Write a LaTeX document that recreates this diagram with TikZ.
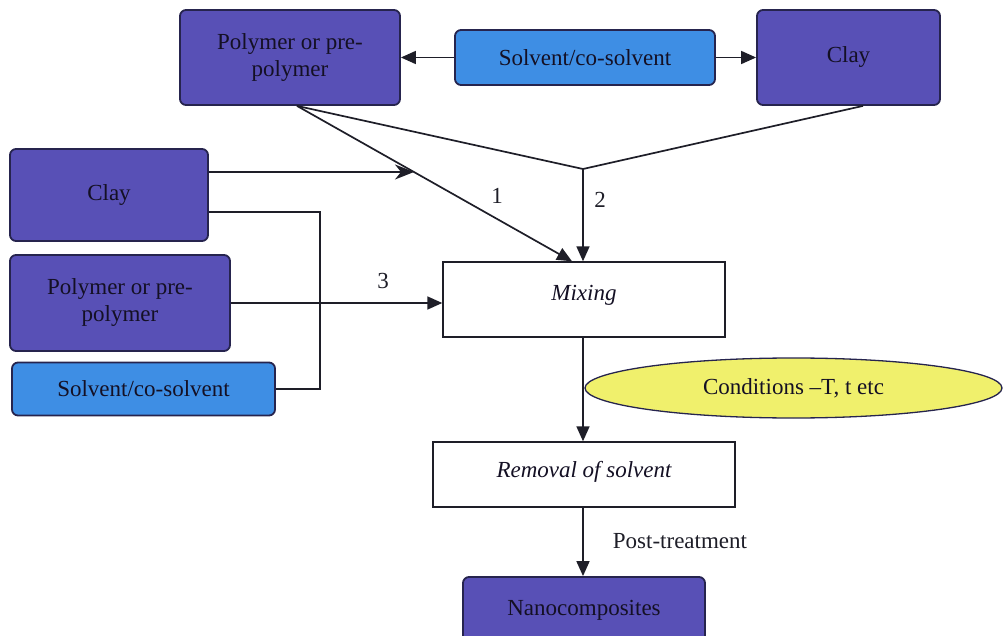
\documentclass[tikz,border=0pt]{standalone}
\usepackage{fontspec}
\setmainfont{Liberation Serif}
\usetikzlibrary{arrows.meta,shapes.geometric,calc}

\definecolor{boxpurple}{RGB}{88,80,182}
\definecolor{boxblue}{RGB}{62,142,228}
\definecolor{boxedge}{RGB}{38,36,78}
\definecolor{condyellow}{RGB}{240,240,108}
\definecolor{inktext}{RGB}{20,16,36}
\definecolor{inkline}{RGB}{30,30,40}

\begin{document}
\begin{tikzpicture}[x=1pt,y=-1pt,
  every node/.style={font=\fontsize{23}{27}\selectfont, text=inktext},
  material/.style={draw=boxedge, line width=1.8pt, rounded corners=6pt,
    fill=boxpurple, align=center, inner sep=0pt},
  solventbox/.style={material, fill=boxblue},
  stagebox/.style={draw=inkline, line width=1.4pt, fill=white, inner sep=0pt,
    font=\fontsize{23}{27}\selectfont\itshape},
  flow/.style={draw=inkline, line width=1.7pt},
  arr/.style={flow, -{Triangle[length=15pt,width=13pt]}},
  sharparr/.style={flow, -{Stealth[length=19pt,width=15pt,inset=6pt]}},
  cond/.style={ellipse, draw=boxedge, line width=1.3pt, fill=condyellow, inner sep=0pt},
  tag/.style={text=inkline}]

\useasboundingbox (0,0) rectangle (1004,636);
\clip (0,0) rectangle (1004,636);

% top row: polymer, solvent, clay
\node[material, minimum width=220pt, minimum height=95pt] (polyA) at (290,57.5) {Polymer or pre-\\polymer};
\node[solventbox, minimum width=260pt, minimum height=55pt] (solvA) at (585,57.5) {Solvent/co-solvent};
\node[material, minimum width=183pt, minimum height=95pt] (clayA) at (848.5,57.5) {Clay};

% left column: separate starting materials
\node[material, minimum width=198pt, minimum height=92pt] (clayB) at (109,195) {Clay};
\node[material, minimum width=220pt, minimum height=96pt] (polyB) at (120,303) {Polymer or pre-\\polymer};
\node[solventbox, minimum width=263pt, minimum height=53pt] (solvB) at (143.5,389) {Solvent/co-solvent};

% process stages
\node[stagebox, minimum width=282pt, minimum height=75pt, text depth=14pt] (mix) at (584,299.5) {Mixing};
\node[stagebox, minimum width=302pt, minimum height=65pt, text depth=10pt] (removal) at (584,474.5) {Removal of solvent};
\node[material, minimum width=242pt, minimum height=66pt] (nano) at (584,610) {Nanocomposites};

% solvent feeds the top-row materials
\draw[arr] (solvA.west) -- (polyA.east);
\draw[arr] (solvA.east) -- (clayA.west);

% routes 1 and 2 from the top row
\coordinate (fork) at ([xshift=7pt]polyA.south);
\coordinate (join) at (583,169);
\coordinate (mixtip) at ([xshift=-12pt]mix.north);
\draw[flow] (fork) -- (join);
\draw[flow] ([xshift=14.5pt]clayA.south) -- (join);
\draw[arr] (join) -- (join |- mix.north);
\draw[arr] (fork) -- (mixtip);

% clay joins route 1
\coordinate (clayout) at ([yshift=23pt]clayB.east);
\coordinate (clayfar) at ([xshift=400pt]clayout);
\draw[sharparr] (clayout) -- (intersection of fork--mixtip and clayout--clayfar);

% route 3: clay and solvent bus, polymer straight to mixing
\coordinate (bus) at (320,212);
\draw[flow] ([yshift=-17pt]clayB.east) -- (bus) -- (bus |- solvB.east) -- (solvB.east);
\draw[arr] (polyB.east) -- (polyB.east -| mix.west);

% main sequence
\draw[arr] (join |- mix.south) -- (join |- removal.north);
\draw[arr] (join |- removal.south) -- (join |- nano.north);

\node[cond, minimum width=417pt, minimum height=60pt] (cond) at (793.5,388) {Conditions \textendash T, t etc};

% route numbers and step label
\node[tag] (n1) at (497,196) {1};
\node[tag] (n2) at (600,200) {2};
\node[tag] (n3) at (383,281) {3};
\node[tag] (post) at (680,541) {Post-treatment};
\end{tikzpicture}
\end{document}
